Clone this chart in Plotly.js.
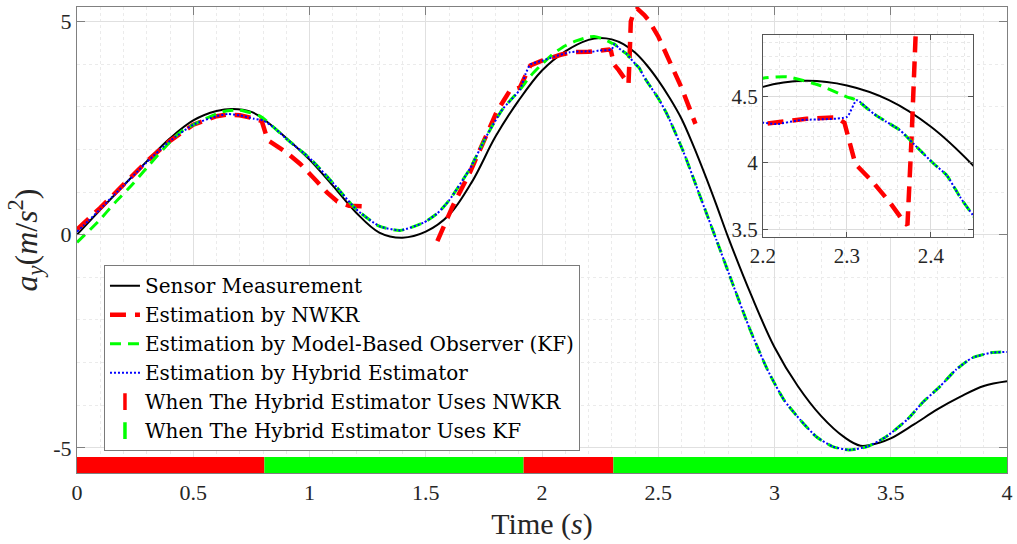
<!DOCTYPE html>
<html>
<head>
<meta charset="utf-8">
<script src="https://cdn.plot.ly/plotly-3.0.1.min.js"></script>
<style>
html,body{margin:0;padding:0;background:#fff;}
#chart{width:1017px;height:544px;}
</style>
</head>
<body>
<div id="chart"></div>
<script>
// ---------- data ----------
const tSensor = [0, 0.1, 0.2, 0.3, 0.4, 0.5, 0.6, 0.67, 0.75, 0.8, 0.9, 1.0, 1.1, 1.2, 1.3, 1.4, 1.5, 1.6, 1.7, 1.8, 1.9, 2.0, 2.1, 2.2, 2.25, 2.3, 2.35, 2.4, 2.45, 2.5, 2.55, 2.6, 2.65, 2.7, 2.75, 2.8, 2.9, 3.0, 3.1, 3.2, 3.3, 3.37, 3.45, 3.5, 3.6, 3.7, 3.8, 3.9, 4.0];
const ySensor = [0, 0.58, 1.15, 1.72, 2.26, 2.68, 2.9, 2.95, 2.88, 2.72, 2.27, 1.76, 1.15, 0.52, 0.05, -0.07, 0.07, 0.46, 1.25, 2.3, 3.15, 3.85, 4.3, 4.57, 4.615, 4.58, 4.47, 4.27, 3.98, 3.62, 3.2, 2.72, 2.1, 1.42, 0.7, -0.05, -1.42, -2.64, -3.55, -4.25, -4.75, -4.95, -4.88, -4.78, -4.45, -4.1, -3.8, -3.55, -3.44];

const tNWKR = [0, 0.05, 0.1, 0.15, 0.2, 0.3, 0.4, 0.5, 0.6, 0.65, 0.7, 0.76, 0.795, 0.805, 0.82, 0.9, 0.96, 1.03, 1.075, 1.12, 1.17, 1.25, null, 1.55, 1.617, 1.69, 1.742, 1.806, 1.862, 1.905, 1.95, 2.0, 2.08, 2.13, 2.2, 2.252, 2.288, 2.297, 2.31, 2.33, 2.35, 2.365, 2.372, 2.377, 2.382, 2.395, 2.41, 2.44, 2.46, 2.5, 2.55, 2.6, 2.66];
const yNWKR = [0.12, 0.36, 0.63, 0.9, 1.17, 1.72, 2.2, 2.58, 2.78, 2.82, 2.8, 2.73, 2.66, 2.45, 2.22, 1.93, 1.66, 1.26, 0.99, 0.78, 0.68, 0.66, null, -0.15, 0.68, 1.46, 2.09, 2.89, 3.38, 3.45, 3.97, 4.08, 4.22, 4.28, 4.29, 4.33, 4.34, 4.3, 3.99, 3.86, 3.71, 3.58, 3.53, 4.2, 5.0, 5.22, 5.3, 5.15, 5.02, 4.65, 4.05, 3.45, 2.6];

const tKF = [0, 0.09, 0.163, 0.237, 0.3, 0.37, 0.443, 0.53, 0.63, 0.7, 0.787, 0.85, 0.9, 1.0, 1.1, 1.2, 1.3, 1.39, 1.49, 1.55, 1.6, 1.69, 1.76, 1.83, 1.905, 1.95, 2.0, 2.05, 2.1, 2.15, 2.2, 2.229, 2.268, 2.2996, 2.3115, 2.3313, 2.347, 2.363, 2.379, 2.403, 2.4187, 2.4345, 2.45, 2.5, 2.54, 2.61, 2.68, 2.75, 2.82, 2.895, 2.97, 3.04, 3.11, 3.18, 3.25, 3.32, 3.4, 3.48, 3.57, 3.64, 3.71, 3.78, 3.85, 3.93, 4.0];
const yKF = [-0.18, 0.3, 0.75, 1.17, 1.57, 2.0, 2.4, 2.66, 2.89, 2.92, 2.78, 2.5, 2.25, 1.8, 1.22, 0.6, 0.2, 0.1, 0.28, 0.5, 0.8, 1.55, 2.3, 2.94, 3.4, 3.72, 4.0, 4.25, 4.43, 4.55, 4.635, 4.645, 4.58, 4.495, 4.47, 4.37, 4.307, 4.245, 4.144, 3.994, 3.906, 3.743, 3.605, 3.2, 2.8, 1.92, 0.9, -0.12, -1.15, -2.23, -3.17, -3.87, -4.34, -4.74, -4.97, -5.05, -4.97, -4.74, -4.34, -3.92, -3.57, -3.17, -2.89, -2.77, -2.75];

const tHybrid = [0, 0.05, 0.1, 0.15, 0.2, 0.3, 0.4, 0.5, 0.6, 0.65, 0.7, 0.76, 0.8, 0.85, 0.9, 1.0, 1.1, 1.2, 1.3, 1.39, 1.49, 1.55, 1.6, 1.69, 1.76, 1.83, 1.905, 1.93, 1.95, 2.0, 2.05, 2.12, 2.2, 2.216, 2.244, 2.3, 2.3115, 2.3313, 2.347, 2.363, 2.379, 2.403, 2.4187, 2.4345, 2.45, 2.5, 2.54, 2.61, 2.68, 2.75, 2.82, 2.895, 2.97, 3.04, 3.11, 3.18, 3.25, 3.32, 3.4, 3.48, 3.57, 3.64, 3.71, 3.78, 3.85, 3.93, 4.0];
const yHybrid = [0.07, 0.33, 0.6, 0.88, 1.15, 1.7, 2.2, 2.58, 2.78, 2.83, 2.8, 2.72, 2.68, 2.5, 2.25, 1.8, 1.22, 0.6, 0.2, 0.1, 0.28, 0.5, 0.8, 1.55, 2.3, 2.94, 3.4, 3.78, 3.99, 4.08, 4.17, 4.28, 4.30, 4.29, 4.32, 4.345, 4.47, 4.37, 4.307, 4.245, 4.144, 3.994, 3.906, 3.743, 3.605, 3.2, 2.8, 1.92, 0.9, -0.12, -1.15, -2.23, -3.17, -3.87, -4.34, -4.74, -4.97, -5.05, -4.97, -4.74, -4.34, -3.92, -3.57, -3.17, -2.89, -2.77, -2.75];

// switching schedule of the hybrid estimator
const switchTimes = [0, 0.806, 1.92, 2.307, 4];
const switchMode  = ['NWKR', 'KF', 'NWKR', 'KF'];

const legendNames = ['Sensor Measurement', 'Estimation by NWKR', 'Estimation by Model-Based Observer (KF)', 'Estimation by Hybrid Estimator', 'When The Hybrid Estimator Uses NWKR', 'When The Hybrid Estimator Uses KF'];

// ---------- build ----------
const RED = '#ff0000', GREEN = '#00ff00', BLUE = '#0000ff', BLACK = '#000000';
const BAR_Y = -5.4;

function barSegments(mode) {
  const xs = [], ys = [];
  for (let i = 0; i < switchMode.length; i++) {
    if (switchMode[i] !== mode) continue;
    if (xs.length) { xs.push(null); ys.push(null); }
    xs.push(switchTimes[i], switchTimes[i + 1]);
    ys.push(BAR_Y, BAR_Y);
  }
  return {xs, ys};
}

const styles = {
  sensor: {color: BLACK, width: 2, dash: 'solid', shape: 'spline', smoothing: 1},
  nwkr:   {color: RED, width: 4.5, dash: '16px,9px', shape: 'linear'},
  kf:     {color: GREEN, width: 3, dash: '11px,7px', shape: 'spline', smoothing: 0.6},
  hyb:    {color: BLUE, width: 2, dash: '2px,2px', shape: 'spline', smoothing: 0.5}
};
const series = [
  {key: 'sensor', x: tSensor, y: ySensor, name: legendNames[0]},
  {key: 'nwkr', x: tNWKR, y: yNWKR, name: legendNames[1]},
  {key: 'kf', x: tKF, y: yKF, name: legendNames[2]},
  {key: 'hyb', x: tHybrid, y: yHybrid, name: legendNames[3]}
];

const traces = [];
series.forEach(s => {
  traces.push({type: 'scatter', mode: 'lines', x: s.x, y: s.y, name: s.name,
    line: styles[s.key], connectgaps: false, hoverinfo: 'skip'});
});
// legend-only markers
[['NWKR', RED, legendNames[4]], ['KF', GREEN, legendNames[5]]].forEach(([m, c, n]) => {
  traces.push({type: 'scatter', mode: 'markers', x: [null], y: [null], name: n,
    marker: {symbol: 'line-ns', size: 12, color: c, line: {color: c, width: 3.5}}});
});
// bottom switching bar
[['NWKR', RED], ['KF', GREEN]].forEach(([m, c]) => {
  const seg = barSegments(m);
  traces.push({type: 'scatter', mode: 'lines', x: seg.xs, y: seg.ys, showlegend: false,
    line: {color: c, width: 16}, hoverinfo: 'skip'});
});
// inset copies
series.forEach(s => {
  traces.push({type: 'scatter', mode: 'lines', x: s.x, y: s.y, xaxis: 'x2', yaxis: 'y2',
    showlegend: false, line: styles[s.key], connectgaps: false, hoverinfo: 'skip'});
});

const FONT = 'Liberation Serif';
const AX = '#808080';
const layout = {
  width: 1017, height: 544,
  margin: {l: 77, r: 10, t: 7, b: 71},
  paper_bgcolor: '#ffffff', plot_bgcolor: '#ffffff',
  font: {family: FONT, size: 22, color: '#262626'},
  showlegend: true,
  legend: {x: 0.029, y: 0.446, xanchor: 'left', yanchor: 'top',
    bgcolor: '#ffffff', bordercolor: '#7a7a7a', borderwidth: 1,
    font: {family: 'DejaVu Serif', size: 20, color: '#000'}, tracegroupgap: 0, itemwidth: 30},
  xaxis: {domain: [0, 1], range: [0, 4], dtick: 0.5, tick0: 0, ticks: 'inside', ticklen: 8,
    tickcolor: AX, showline: true, linecolor: AX, linewidth: 1, mirror: 'ticks',
    showgrid: true, gridcolor: '#e0e0e0', zeroline: false, layer: 'below traces',
    minor: {dtick: 0.1, showgrid: true, gridcolor: '#ebebeb', griddash: 'dot', ticks: ''},
    tickfont: {size: 22}, title: {text: 'Time (<i>s</i>)', font: {size: 30}, standoff: 8}},
  yaxis: {domain: [0, 1], range: [-5.59, 5.34], tickvals: [-5, 0, 5], ticktext: ['-5', '0', '5'],
    ticks: 'inside', ticklen: 8, tickcolor: AX, showline: true, linecolor: AX, linewidth: 1,
    mirror: 'ticks', showgrid: true, gridcolor: '#e0e0e0', zeroline: false,
    minor: {dtick: 1, showgrid: true, gridcolor: '#ebebeb', griddash: 'dot', ticks: ''},
    tickfont: {size: 22},
    title: {text: '<i>a<sub>y</sub></i>(<i>m</i>/<i>s</i><sup>2</sup>)', font: {size: 32}, standoff: 6}},
  xaxis2: {domain: [0.7376, 0.9634], anchor: 'y2', range: [2.2, 2.45], dtick: 0.1, tick0: 2.2,
    ticks: 'inside', ticklen: 5, tickcolor: '#555', showline: true, linecolor: '#555', mirror: 'ticks',
    showgrid: true, gridcolor: '#dcdcdc', zeroline: false,
    minor: {dtick: 0.02, showgrid: true, gridcolor: '#e8e8e8', griddash: 'dot', ticks: ''},
    tickfont: {size: 21}},
  yaxis2: {domain: [0.506, 0.940], anchor: 'x2', range: [3.44, 4.96], tickvals: [3.5, 4, 4.5],
    ticktext: ['3.5', '4', '4.5'],
    ticks: 'inside', ticklen: 5, tickcolor: '#555', showline: true, linecolor: '#555', mirror: 'ticks',
    showgrid: true, gridcolor: '#dcdcdc', zeroline: false,
    minor: {dtick: 0.1, showgrid: true, gridcolor: '#e8e8e8', griddash: 'dot', ticks: ''},
    tickfont: {size: 21}}
};

Plotly.newPlot('chart', traces, layout, {staticPlot: true, displayModeBar: false});
</script>
</body>
</html>
